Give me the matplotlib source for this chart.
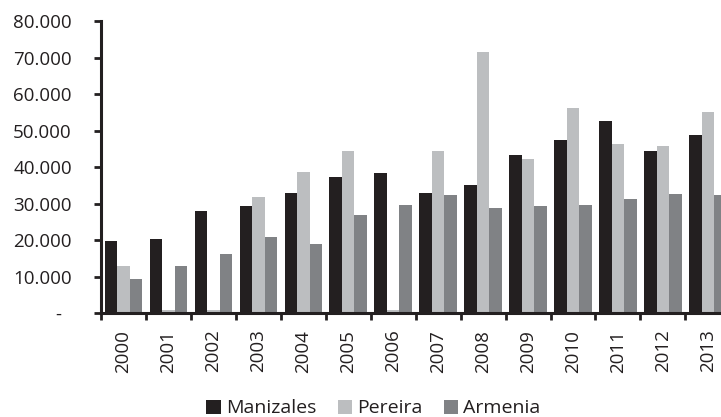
import numpy as np
import matplotlib.pyplot as plt
from matplotlib.ticker import FuncFormatter

years = [str(y) for y in range(2000, 2014)]
manizales = [19800, 20300, 28000, 29300, 32900, 37300, 38400,
             32900, 35100, 43300, 47400, 52600, 44400, 48700]
pereira = [12900, 800, 800, 31800, 38600, 44400, 800,
           44400, 71400, 42200, 56100, 46300, 45700, 55000]
armenia = [9400, 12900, 16200, 20900, 18900, 26900, 29600,
           32300, 28800, 29300, 29600, 31200, 32600, 32300]

colors = ['#231f20', '#bcbec0', '#808285']
names = ['Manizales', 'Pereira', 'Armenia']

plt.rcParams['font.family'] = ['Open Sans', 'DejaVu Sans']
plt.rcParams['text.color'] = '#231f20'

fig = plt.figure(figsize=(7.21, 4.17), dpi=100)
ax = fig.add_axes([0.140, 0.2494, 0.873, 0.7002])

x = np.arange(len(years))
w = 0.278
for i, (vals, c, n) in enumerate(zip([manizales, pereira, armenia], colors, names)):
    ax.bar(x + (i - 1) * w, vals, width=w, color=c, label=n)

ax.set_xlim(-0.5, len(years) - 0.5)
ax.set_ylim(0, 80000)
ax.set_yticks(np.arange(0, 80001, 10000))
ax.yaxis.set_major_formatter(FuncFormatter(
    lambda v, p: '-  ' if v == 0 else f'{int(v):,}'.replace(',', '.')))
ax.set_xticks(np.arange(-0.5, len(years), 1), minor=False)
ax.set_xticklabels([])
ax.set_xticks(x, minor=True)
ax.set_xticklabels(years, minor=True, rotation=90, fontsize=13.5,
                   color='#231f20')
ax.tick_params(axis='x', which='minor', length=0, pad=12)
ax.tick_params(axis='x', which='major', length=5, width=2, color='#231f20')
ax.tick_params(axis='y', length=5, width=2, color='#231f20', labelsize=13.5,
               pad=16, labelcolor='#231f20')

for s in ['top', 'right']:
    ax.spines[s].set_visible(False)
for s in ['left', 'bottom']:
    ax.spines[s].set_linewidth(2.2)
    ax.spines[s].set_color('#231f20')

fig.legend(loc='lower center', bbox_to_anchor=(0.518, -0.043), ncol=3,
           frameon=False, fontsize=14, handlelength=0.75,
           handleheight=0.75, handletextpad=0.25, columnspacing=1.1)

fig.savefig('out.png', dpi=100)
